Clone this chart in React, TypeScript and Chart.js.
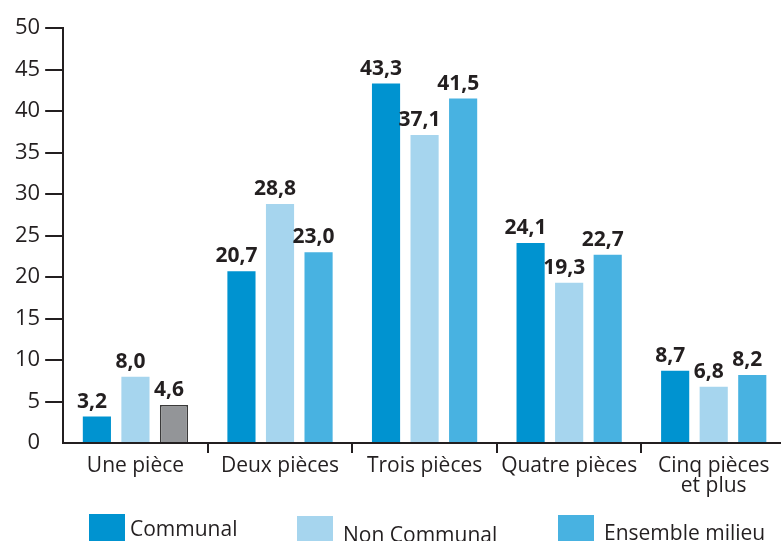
import React, { useEffect, useRef } from 'react';
import { Chart, registerables } from 'chart.js';

Chart.register(...registerables);

const categories: string[][] = [['Une pièce'], ['Deux pièces'], ['Trois pièces'], ['Quatre pièces'], ['Cinq pièces', 'et plus']];
const communal = [3.2, 20.7, 43.3, 24.1, 8.7];
const nonCommunal = [8.0, 28.8, 37.1, 19.3, 6.8];
const ensemble = [4.6, 23.0, 41.5, 22.7, 8.2];
const seriesLabels = ['Communal', 'Non Communal', 'Ensemble milieu'];

const INK = '#231f20';
const C1 = '#0093d0';
const C2 = '#a6d5ee';
const C3 = '#48b2e1';
const GRAY = '#939598';

const valueLabels = {
  id: 'valueLabels',
  afterDatasetsDraw(chart: any) {
    const ctx = chart.ctx;
    ctx.save();
    ctx.font = 'bold 21px "Open Sans"';
    ctx.fillStyle = INK;
    ctx.textAlign = 'center';
    ctx.textBaseline = 'alphabetic';
    chart.data.datasets.forEach((ds: any, i: number) => {
      const meta = chart.getDatasetMeta(i);
      meta.data.forEach((bar: any, j: number) => {
        const v = ds.data[j] as number;
        ctx.fillText(v.toFixed(1).replace('.', ','), bar.x - 5, bar.y - 9);
      });
    });
    ctx.restore();
  },
};

const customLegend = {
  id: 'customLegend',
  afterDraw(chart: any, _args: any, opts: any) {
    const ctx = chart.ctx;
    ctx.save();
    ctx.font = '21px "Open Sans"';
    ctx.textAlign = 'left';
    ctx.textBaseline = 'alphabetic';
    chart.data.datasets.forEach((ds: any, i: number) => {
      const it = opts.items[i];
      ctx.fillStyle = ds.legendColor;
      ctx.fillRect(it.boxX, it.boxY, 36, 32);
      ctx.fillStyle = INK;
      ctx.fillText(ds.label, it.textX, it.baseline);
    });
    ctx.restore();
  },
};

export default function App() {
  const ref = useRef<HTMLCanvasElement | null>(null);
  useEffect(() => {
    if (!ref.current) return;
    const chart = new Chart(ref.current, {
      type: 'bar',
      data: {
        labels: categories,
        datasets: [
          { label: seriesLabels[0], data: communal, backgroundColor: C1, legendColor: C1 } as any,
          { label: seriesLabels[1], data: nonCommunal, backgroundColor: C2, legendColor: C2 } as any,
          {
            label: seriesLabels[2],
            data: ensemble,
            backgroundColor: ensemble.map((_, i) => (i === 0 ? GRAY : C3)),
            borderColor: ensemble.map((_, i) => (i === 0 ? '#3a3a3a' : C3)),
            borderWidth: ensemble.map((_, i) => (i === 0 ? 1.5 : 0)),
            legendColor: C3,
          } as any,
        ],
      },
      options: {
        animation: false,
        responsive: true,
        maintainAspectRatio: false,
        layout: { padding: { top: 28, left: 10, right: 1, bottom: 42 } },
        datasets: { bar: { categoryPercentage: 0.8, barPercentage: 0.73 } } as any,
        plugins: {
          legend: { display: false },
          tooltip: { enabled: false },
          customLegend: {
            items: [
              { boxX: 89, boxY: 514, textX: 130, baseline: 536 },
              { boxX: 297, boxY: 516, textX: 343, baseline: 542 },
              { boxX: 558, boxY: 515, textX: 604, baseline: 540 },
            ],
          },
        } as any,
        scales: {
          x: {
            offset: true,
            grid: {
              offset: true,
              drawOnChartArea: false,
              drawTicks: true,
              tickLength: 10,
              lineWidth: 2,
              color: (c: any) => (c.index === 0 ? 'rgba(0,0,0,0)' : INK),
            },
            border: { color: INK, width: 2 },
            ticks: {
              color: INK,
              font: { family: '"Open Sans"', size: 21, lineHeight: 0.95 },
              padding: 3,
              maxRotation: 0,
              autoSkip: false,
            },
          },
          y: {
            min: 0,
            max: 50,
            grid: {
              drawOnChartArea: false,
              drawTicks: true,
              tickLength: 18,
              lineWidth: 2,
              color: (c: any) => (c.tick && c.tick.value === 0 ? 'rgba(0,0,0,0)' : INK),
            },
            border: { color: INK, width: 2 },
            ticks: {
              stepSize: 5,
              color: INK,
              font: { family: '"Open Sans"', size: 22 },
              padding: 5,
            },
          },
        },
      },
      plugins: [valueLabels, customLegend],
    });
    return () => chart.destroy();
  }, []);

  return (
    <div style={{ position: 'fixed', left: 0, top: 0, width: 781, height: 541, overflow: 'hidden', background: '#fff' }}>
      <div style={{ position: 'relative', width: 787, height: 541 }}>
        <canvas ref={ref} />
      </div>
    </div>
  );
}
